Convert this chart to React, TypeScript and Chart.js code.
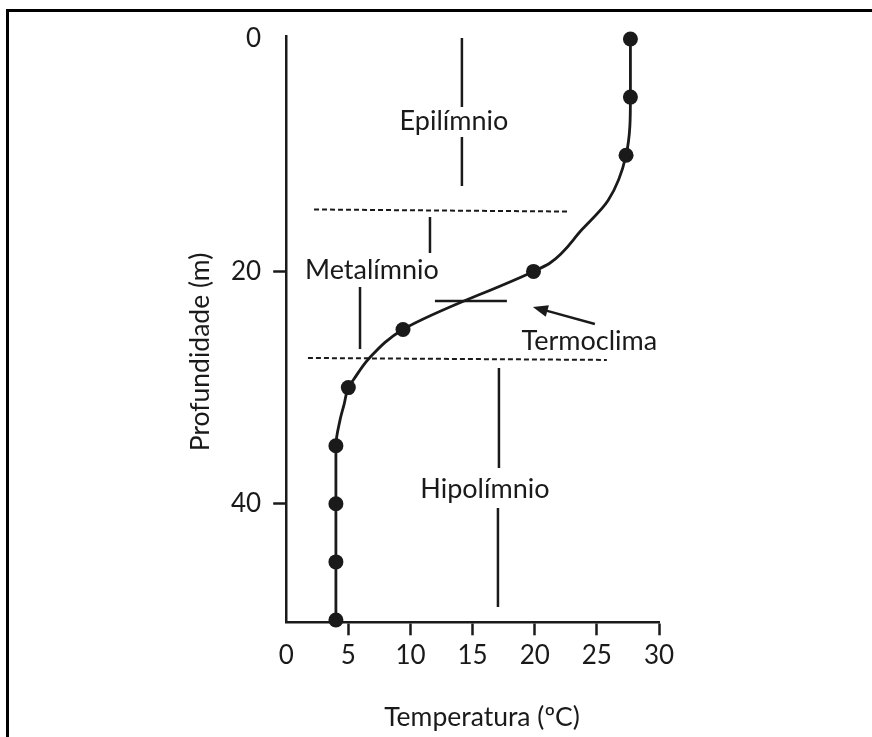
import React, { useEffect, useRef } from "react";
import { Chart, registerables } from "chart.js";

Chart.register(...registerables);

// ---- data ----
const DEPTHS = [0, 5, 10, 20, 25, 30, 35, 40, 45, 50];
const TEMPS = [27.7, 27.7, 27.35, 19.9, 9.4, 5.0, 4.0, 4.0, 4.0, 4.0];

// points (including unmarked bends)
const CURVE_DEPTHS = [0, 5, 10, 13.9, 16.4, 19.3, 20, 25, 27.45, 29.35, 30, 31.4, 32.8, 35, 40, 45, 50];
const CURVE_TEMPS = [27.7, 27.7, 27.35, 25.9, 23.8, 21.2, 19.9, 9.4, 6.7, 5.4, 5.0, 4.67, 4.33, 4.0, 4.0, 4.0, 4.0];

const X_TICKS = [0, 5, 10, 15, 20, 25, 30];
const Y_TICKS = [0, 20, 40];

const X_TITLE = "Temperatura (ºC)";
const Y_TITLE = "Profundidade (m)";

// layer boundaries (dashed)
const UPPER_DASH_T = [2.24, 22.84];
const UPPER_DASH_D = [14.67, 14.85];
const LOWER_DASH_T = [1.75, 25.8];
const LOWER_DASH_D = [27.45, 27.62];

// leader segments (vertical)
const LEADER_T = [14.14, 14.14, 11.57, 5.94, 17.12, 17.04];
const LEADER_D_START = [-0.09, 8.43, 15.32, 21.34, 28.31, 40.36];
const LEADER_D_END = [5.85, 12.65, 18.42, 26.68, 36.92, 48.88];

// thermocline bar
const THERMO_T = [11.97, 17.76];
const THERMO_D = [22.55, 22.55];

// arrow (tail -> tip)
const ARROW_T = [24.84, 19.85];
const ARROW_D = [24.53, 23.06];

// labels (center x, baseline)
const LABELS = ["Epilímnio", "Metalímnio", "Termoclima", "Hipolímnio"];
const LABEL_T = [13.5, 6.9, 24.4, 15.99];
const LABEL_D = [7.83, 20.68, 26.76, 39.5];

const INK = "#1a1a1a";
const FONT = "Lato, 'Noto Sans', sans-serif";

const annotationPlugin = {
  id: "annotations",
  afterDatasetsDraw(chart: any) {
    const { ctx } = chart;
    const xs = chart.scales.x;
    const ys = chart.scales.y;
    ctx.save();
    // arrow
    const x1 = xs.getPixelForValue(ARROW_T[0]);
    const y1 = ys.getPixelForValue(ARROW_D[0]);
    const x2 = xs.getPixelForValue(ARROW_T[1]);
    const y2 = ys.getPixelForValue(ARROW_D[1]);
    const ang = Math.atan2(y2 - y1, x2 - x1);
    const head = 15;
    const half = 6;
    const bx = x2 - head * Math.cos(ang);
    const by = y2 - head * Math.sin(ang);
    ctx.strokeStyle = INK;
    ctx.fillStyle = INK;
    ctx.lineWidth = 2.5;
    ctx.beginPath();
    ctx.moveTo(x1, y1);
    ctx.lineTo(bx + 2 * Math.cos(ang), by + 2 * Math.sin(ang));
    ctx.stroke();
    ctx.beginPath();
    ctx.moveTo(x2, y2);
    ctx.lineTo(bx + half * Math.sin(ang), by - half * Math.cos(ang));
    ctx.lineTo(bx - half * Math.sin(ang), by + half * Math.cos(ang));
    ctx.closePath();
    ctx.fill();

    // labels
    ctx.font = `27px ${FONT}`;
    ctx.textAlign = "center";
    ctx.textBaseline = "alphabetic";
    LABELS.forEach((s, i) => {
      ctx.fillText(s, xs.getPixelForValue(LABEL_T[i]), ys.getPixelForValue(LABEL_D[i]));
    });

    // axis titles
    ctx.font = `26.5px ${FONT}`;
    ctx.fillText(X_TITLE, 482, 726);
    ctx.translate(209, 352);
    ctx.rotate(-Math.PI / 2);
    ctx.fillText(Y_TITLE, 0, 0);
    ctx.restore();
  },
};

function seg(ts: number[], ds: number[], dashed: boolean) {
  return {
    type: "line" as const,
    data: ts.map((t, i) => ({ x: t, y: ds[i] })),
    borderColor: INK,
    borderWidth: dashed ? 2 : 2.5,
    borderDash: dashed ? [5, 3] : [],
    pointRadius: 0,
    tension: 0,
    clip: false as any,
    fill: false,
  };
}

export default function App() {
  const canvasRef = useRef<HTMLCanvasElement | null>(null);

  useEffect(() => {
    const canvas = canvasRef.current;
    if (!canvas) return;

    const datasets: any[] = [
      {
        type: "line",
        data: TEMPS.map((t, i) => ({ x: t, y: DEPTHS[i] })),
        showLine: false,
        pointRadius: 7.5,
        pointBackgroundColor: INK,
        pointBorderWidth: 0,
        clip: false,
      },
      {
        type: "line",
        data: CURVE_TEMPS.map((t, i) => ({ x: t, y: CURVE_DEPTHS[i] })),
        borderColor: INK,
        borderWidth: 2.8,
        pointRadius: 0,
        cubicInterpolationMode: "monotone",
        clip: false,
        fill: false,
      },
      seg(UPPER_DASH_T, UPPER_DASH_D, true),
      seg(LOWER_DASH_T, LOWER_DASH_D, true),
      seg(THERMO_T, THERMO_D, false),
      ...LEADER_T.map((t, i) => seg([t, t], [LEADER_D_START[i], LEADER_D_END[i]], false)),
    ];

    const chart = new Chart(canvas, {
      type: "line",
      data: { datasets },
      options: {
        indexAxis: "y",
        animation: false,
        responsive: false,
        events: [],
        layout: { padding: { left: 0, top: 36.7, right: 213, bottom: 0 } },
        plugins: { legend: { display: false }, tooltip: { enabled: false } },
        scales: {
          x: {
            type: "linear",
            position: "bottom",
            min: 0,
            max: 30,
            afterBuildTicks: (s: any) => {
              s.ticks = X_TICKS.map((v) => ({ value: v }));
            },
            afterFit: (s: any) => {
              s.height = 114.7;
            },
            ticks: {
              autoSkip: false,
              maxRotation: 0,
              padding: 5,
              color: INK,
              font: { family: FONT, size: 26 },
            },
            grid: {
              drawOnChartArea: false,
              drawTicks: true,
              tickLength: 13,
              tickWidth: 2.5,
              tickColor: (c: any) => (c.tick && c.tick.value === 0 ? "rgba(0,0,0,0)" : INK),
            },
            border: { display: true, color: INK, width: 2.5 },
          },
          y: {
            type: "linear",
            position: "left",
            reverse: true,
            min: -0.2,
            max: 50.2,
            afterBuildTicks: (s: any) => {
              s.ticks = Y_TICKS.map((v) => ({ value: v }));
            },
            afterFit: (s: any) => {
              s.width = 286.2;
            },
            ticks: {
              autoSkip: false,
              padding: 12,
              color: INK,
              font: { family: FONT, size: 26 },
            },
            grid: {
              drawOnChartArea: false,
              drawTicks: true,
              tickLength: 13,
              tickWidth: 2.5,
              tickColor: (c: any) => (c.tick && c.tick.value === 0 ? "rgba(0,0,0,0)" : INK),
            },
            border: { display: true, color: INK, width: 2.5 },
          },
        },
      } as any,
      plugins: [annotationPlugin],
    });

    return () => chart.destroy();
  }, []);

  return (
    <div style={{ position: "absolute", left: 0, top: 0, width: 872, height: 737, background: "#fff", overflow: "hidden" }}>
      <div
        style={{
          position: "absolute",
          left: 6,
          top: 9,
          right: -10,
          bottom: -10,
          borderTop: "3px solid #000",
          borderLeft: "3px solid #000",
        }}
      />
      <canvas
        ref={canvasRef}
        width={872}
        height={737}
        style={{ position: "absolute", left: 0, top: 0, width: 872, height: 737 }}
      />
    </div>
  );
}
